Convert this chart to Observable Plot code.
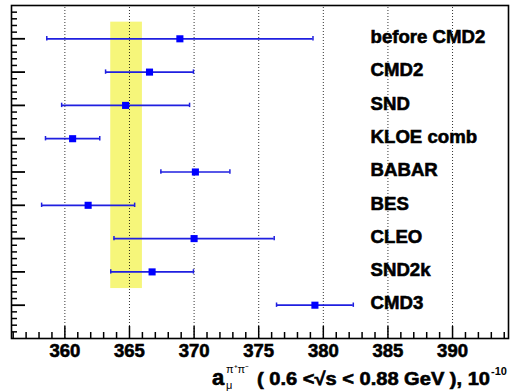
<!DOCTYPE html>
<html>
<head>
<meta charset="utf-8">
<script src="https://cdn.jsdelivr.net/npm/d3@7"></script>
<script src="https://cdn.jsdelivr.net/npm/@observablehq/plot@0.6"></script>
<style>
  html, body { margin: 0; padding: 0; background: #fff; }
  svg { font-family: "Liberation Sans", Arial, sans-serif; }
  svg text.bold, svg g.bold text { font-weight: 700; stroke: #000; stroke-width: 0.6px; }
</style>
</head>
<body>
<div id="chart"></div>
<script>
// ---- data ----
const experiments = ["before CMD2", "CMD2", "SND", "KLOE comb", "BABAR", "BES", "CLEO", "SND2k", "CMD3"];
const rowPositions = [9, 8, 7, 6, 5, 4, 3, 2, 1];
const values = [368.9, 366.55, 364.7, 360.6, 370.1, 361.8, 370.0, 366.75, 379.35];
const errors = [10.3, 3.4, 4.95, 2.1, 2.67, 3.6, 6.2, 3.2, 2.97];
const bandX = [363.55, 366.0];
const bandY = [1.5, 9.5];
const majorTicks = [360, 365, 370, 375, 380, 385, 390];
const minorTicks = d3.range(356, 395).filter(v => v % 5 !== 0);
const yMajorTicks = [1, 2, 3, 4, 5, 6, 7, 8, 9];
const yMinorTicks = d3.range(1, 50).map(i => i / 5).filter(v => Math.abs(v - Math.round(v)) > 1e-6);

// ---- geometry ----
const W = 510, H = 391;
const mL = 11, mR = 2, mT = 5, mB = 53;
const xDomain = [355.87, 394.33];
const yDomain = [0, 10];
const xPerPx = (xDomain[1] - xDomain[0]) / (W - mL - mR);
const yPerPx = (yDomain[1] - yDomain[0]) / (H - mT - mB);
const labelX = 383.66;

const rows = experiments.map((name, i) => ({
  name, pos: rowPositions[i], value: values[i],
  lo: values[i] - errors[i], hi: values[i] + errors[i]
}));

const lineColor = "#1f1fe0";
const markColor = "#0000ff";

const plot = Plot.plot({
  width: W, height: H,
  marginLeft: mL, marginRight: mR, marginTop: mT, marginBottom: mB,
  x: {domain: xDomain, axis: null},
  y: {domain: yDomain, axis: null},
  style: {background: "#fff", fontFamily: "Liberation Sans, Arial, sans-serif"},
  marks: [
    Plot.rect([{x1: bandX[0], x2: bandX[1], y1: bandY[0], y2: bandY[1]}],
      {x1: "x1", x2: "x2", y1: "y1", y2: "y2", fill: "#f6f67a"}),
    Plot.ruleX(majorTicks, {x: d => d, y1: yDomain[0], y2: yDomain[1],
      stroke: "#000", strokeWidth: 1, strokeDasharray: "1,2", strokeOpacity: 0.8}),
    Plot.ruleY(rows, {y: "pos", x1: "lo", x2: "hi", stroke: lineColor, strokeWidth: 1.7}),
    Plot.ruleX(rows, {x: "lo", y1: d => d.pos - 2.2 * yPerPx, y2: d => d.pos + 2.2 * yPerPx, stroke: lineColor, strokeWidth: 1.5}),
    Plot.ruleX(rows, {x: "hi", y1: d => d.pos - 2.2 * yPerPx, y2: d => d.pos + 2.2 * yPerPx, stroke: lineColor, strokeWidth: 1.5}),
    Plot.dot(rows, {x: "value", y: "pos", symbol: "square", r: 4, fill: markColor, stroke: "none"}),
    Plot.text(rows, {x: labelX, y: "pos", text: "name", textAnchor: "start",
      fontSize: 18.6, fontWeight: "bold", fill: "#000", dy: -1.7, className: "bold"}),
    // bottom axis ticks (inward)
    Plot.ruleX(majorTicks, {x: d => d, y1: yDomain[0], y2: yDomain[0] + 12 * yPerPx, stroke: "#000", strokeWidth: 1.5}),
    Plot.ruleX(minorTicks, {x: d => d, y1: yDomain[0], y2: yDomain[0] + 6 * yPerPx, stroke: "#000", strokeWidth: 1.5}),
    // left axis ticks (inward)
    Plot.ruleY(yMajorTicks, {y: d => d, x1: xDomain[0], x2: xDomain[0] + 14 * xPerPx, stroke: "#000", strokeWidth: 1.8}),
    Plot.ruleY(yMinorTicks, {y: d => d, x1: xDomain[0], x2: xDomain[0] + 6 * xPerPx, stroke: "#000", strokeWidth: 1.5}),
    // tick labels
    Plot.text(majorTicks, {x: d => d, frameAnchor: "bottom", lineAnchor: "top", dy: 5,
      text: d => String(d), fontSize: 18.5, fontWeight: "bold", fill: "#000", className: "bold"}),
    Plot.frame({stroke: "#000", strokeWidth: 1.6})
  ]
});

document.getElementById("chart").appendChild(plot);

// axis title with sub/superscripts
const svg = d3.select(plot);
const g = svg.append("g").attr("fill", "#000").attr("text-anchor", "start");
g.append("text").attr("class", "bold").attr("x", 212).attr("y", 385).attr("font-size", 22).attr("font-weight", "bold").text("a");
g.append("text").attr("x", 226).attr("y", 373).attr("font-size", 11).text("π⁺π⁻");
g.append("text").attr("x", 226).attr("y", 389).attr("font-size", 11).text("μ");
g.append("text").attr("class", "bold").attr("x", 257).attr("y", 385).attr("font-size", 18).attr("font-weight", "bold")
  .attr("textLength", 233).attr("lengthAdjust", "spacingAndGlyphs")
  .text("( 0.6 <√s < 0.88 GeV ), 10");
g.append("text").attr("x", 491).attr("y", 375).attr("font-size", 11).attr("font-weight", "bold").text("-10");
</script>
</body>
</html>
